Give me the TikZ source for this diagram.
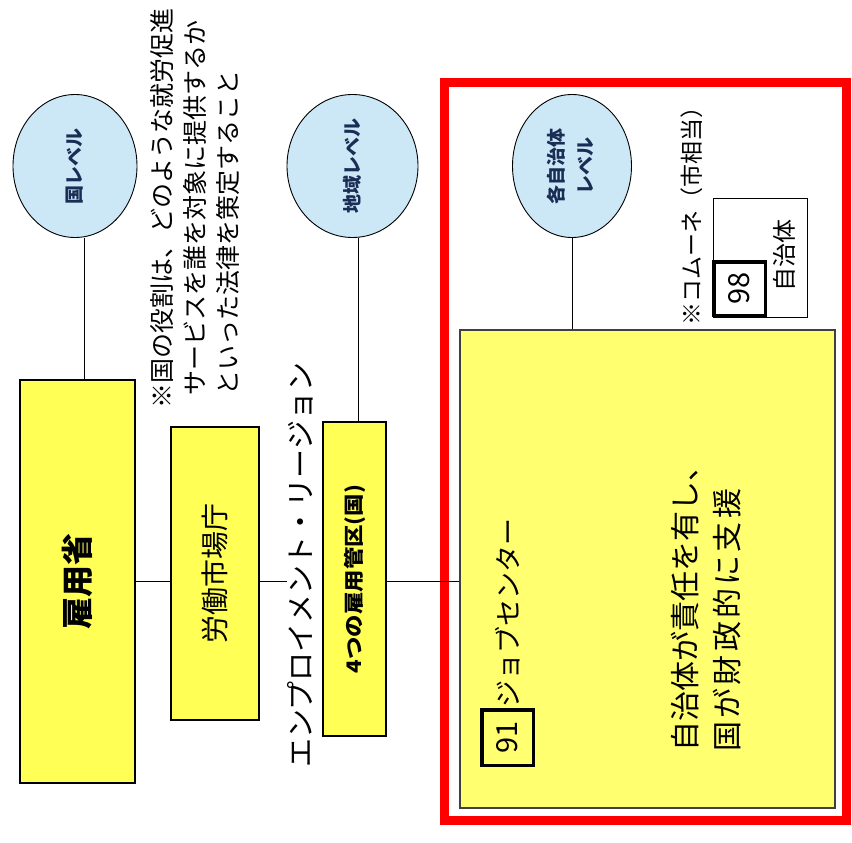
\documentclass[tikz,border=0pt]{standalone}
\usepackage{fontspec}
\usepackage{graphicx}
\setmainfont{Noto Sans CJK JP}
\usetikzlibrary{shapes.geometric}
\definecolor{ybox}{RGB}{255,255,85}
\definecolor{ybig}{RGB}{255,255,112}
\definecolor{lvlblue}{RGB}{204,232,246}
\definecolor{navy}{RGB}{25,45,85}
\definecolor{frred}{RGB}{255,0,0}
\newcommand\rotT[1]{\rotatebox{90}{#1}}
\begin{document}
\begin{tikzpicture}[x=1pt,y=-1pt,
  lvl/.style={ellipse, draw=black, line width=0.9pt, fill=lvlblue, inner sep=0pt, text=navy, font=\bfseries\fontsize{19}{29}\selectfont},
  ybx/.style={draw=black, line width=1.2pt, fill=ybox, inner sep=0pt},
  numbox/.style={draw=black, line width=3.5pt, inner sep=0pt, font=\fontsize{29}{32}\selectfont},
  conn/.style={draw=black, line width=1pt},
  txt/.style={inner sep=0pt}]
\useasboundingbox (0,0) rectangle (852,843);

% level ellipses
\node[lvl, minimum width=124pt, minimum height=143pt] (e1) at (75,166) {\rotT{国レベル}};
\node[lvl, minimum width=131pt, minimum height=143pt] (e2) at (352.5,166) {\rotT{地域レベル}};
\node[lvl, minimum width=119pt, minimum height=143pt] (e3) at (572,166) {\rotT{\begin{tabular}{@{}c@{}}各自治体\\レベル\end{tabular}}};

% national note
\node[txt, anchor=south west, font=\fontsize{25}{33}\selectfont] (note) at (148,409)
  {\rotT{\begin{tabular}{@{}l@{}}※国の役割は、どのような就労促進\\\hspace{13pt}サービスを誰を対象に提供するか\\\hspace{13pt}といった法律を策定すること\end{tabular}}};

% boxes
\node[ybx, minimum width=115pt, minimum height=403pt] (b1) at (77.5,581.5) {\rotT{\bfseries\fontsize{32}{36}\selectfont 雇用省}};
\node[ybx, minimum width=88pt, minimum height=293pt] (b2) at (215,573.5) {\rotT{\fontsize{28}{32}\selectfont 労働市場庁}};
\node[ybx, minimum width=63pt, minimum height=314pt] (b3) at (354.5,579) {\scalebox{1}[1.12]{\rotT{\bfseries\fontsize{20}{24}\selectfont 4つの雇用管区(国)}}};
\node[txt, font=\fontsize{29}{34}\selectfont] (er) at (300,565) {\rotT{エンプロイメント・リージョン}};

% red frame and municipal level
\node[draw=frred, line width=9pt, minimum width=402pt, minimum height=737pt, inner sep=0pt] (frame) at (645,451.5) {};
\node[draw=black!75, line width=1.2pt, fill=ybig, minimum width=375pt, minimum height=478pt, inner sep=0pt] (big) at (647.5,569) {};

\node[numbox, minimum width=51.5pt, minimum height=55.5pt] (n91) at (507.5,737.5) {\rotT{91}};
\node[txt, anchor=south, font=\fontsize{27}{30}\selectfont] (jc) at (n91.north) {\rotT{ジョブセンター}};

\node[txt, anchor=south west, font=\fontsize{30}{42}\selectfont] (resp) at (667,752)
  {\rotT{\begin{tabular}{@{}l@{}}自治体が責任を有し、\\{\addfontfeature{LetterSpace=11}国が財政的に支援}\end{tabular}}};

\node[txt, anchor=south, font=\fontsize{23}{28}\selectfont] (kom) at (692,326) {\rotT{※コムーネ（市相当）}};
\node[draw=black, line width=1pt, fill=white, minimum width=94pt, minimum height=119pt, inner sep=0pt] (jt) at (760,257.5) {};
\node[numbox, fill=white, minimum width=51.5pt, minimum height=53.5pt] (n98) at (739.5,288.5) {\rotT{98}};
\node[txt, font=\fontsize{24}{28}\selectfont] (jtt) at (784,255) {\rotT{自治体}};

% connectors
\draw[conn] ([xshift=9pt]e1.south) -- ([xshift=9pt]e1.south |- b1.north);
\draw[conn] ([xshift=5.5pt]e2.south) -- ([xshift=5.5pt]e2.south |- b3.north);
\draw[conn] (e3.south) -- (e3.south |- big.north);
\draw[conn] (b1.east) -- (b1.east -| b2.west);
\draw[conn] (b2.east |- b1.east) -- (er.west |- b1.east);
\draw[conn] (b3.east |- b1.east) -- (big.west |- b1.east);
\end{tikzpicture}
\end{document}
